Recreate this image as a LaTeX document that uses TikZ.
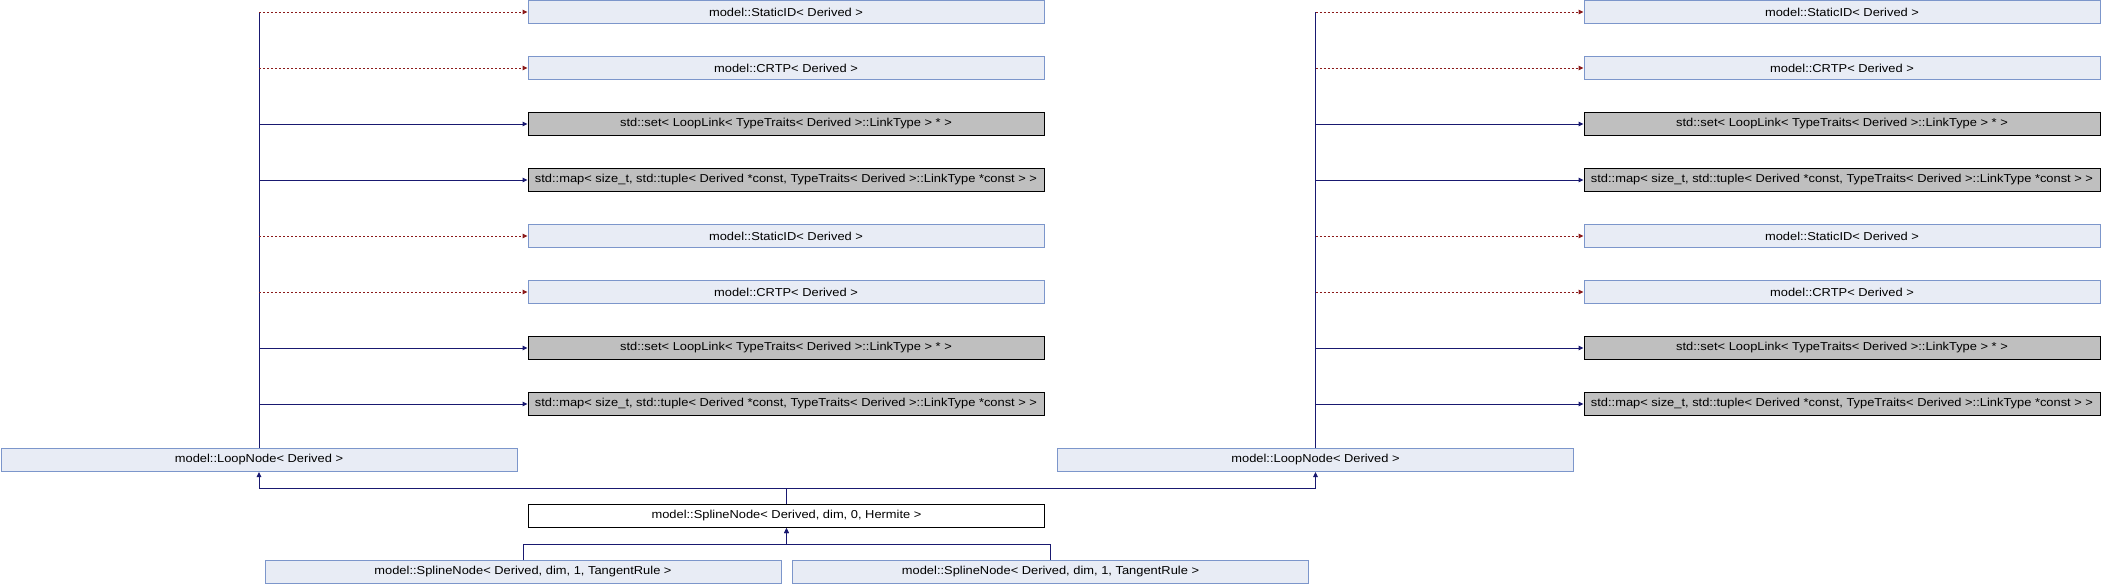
\documentclass[tikz,border=0pt]{standalone}
\usepackage{fontspec}
\setmainfont{Liberation Sans}
\usetikzlibrary{arrows.meta}
\definecolor{edgeblue}{HTML}{191970}
\definecolor{edgered}{HTML}{8B1A1A}
\definecolor{boxfill}{HTML}{E8ECF5}
\definecolor{boxline}{HTML}{7C96CB}
\definecolor{extfill}{HTML}{BFBFBF}
\newcommand{\dx}[1]{\scalebox{1.12}[1]{#1}}
\begin{document}
\begin{tikzpicture}[x=1pt,y=-1pt,
  every node/.style={font=\fontsize{11.5}{13}\selectfont, inner sep=0pt, minimum height=23pt, line width=1pt},
  cls/.style={draw=boxline, fill=boxfill, minimum width=516pt},
  ext/.style={draw=black, fill=extfill, minimum width=516pt},
  cur/.style={draw=black, fill=white, minimum width=516pt},
  tip/.style={-{Triangle[length=5pt,width=4.5pt]}},
  inh/.style={draw=edgeblue, line width=1pt, tip},
  usage/.style={draw=edgered, line width=1pt, dash pattern=on 2pt off 2pt, tip},
  trunk/.style={draw=edgeblue, line width=1pt}
]
\useasboundingbox (0,0) rectangle (2102,584);

% left column
\node[cls] (lS1)  at (786,12)  {\dx{model::StaticID< Derived >}};
\node[cls] (lC1)  at (786,68)  {\dx{model::CRTP< Derived >}};
\node[ext] (lT1)  at (786,124) {\dx{std::set< LoopLink< TypeTraits< Derived >::LinkType > * >}};
\node[ext] (lM1)  at (786,180) {\dx{std::map< size\_t, std::tuple< Derived *const, TypeTraits< Derived >::LinkType *const > >}};
\node[cls] (lS2)  at (786,236) {\dx{model::StaticID< Derived >}};
\node[cls] (lC2)  at (786,292) {\dx{model::CRTP< Derived >}};
\node[ext] (lT2)  at (786,348) {\dx{std::set< LoopLink< TypeTraits< Derived >::LinkType > * >}};
\node[ext] (lM2)  at (786,404) {\dx{std::map< size\_t, std::tuple< Derived *const, TypeTraits< Derived >::LinkType *const > >}};

% right column
\node[cls] (rS1)  at (1842,12)  {\dx{model::StaticID< Derived >}};
\node[cls] (rC1)  at (1842,68)  {\dx{model::CRTP< Derived >}};
\node[ext] (rT1)  at (1842,124) {\dx{std::set< LoopLink< TypeTraits< Derived >::LinkType > * >}};
\node[ext] (rM1)  at (1842,180) {\dx{std::map< size\_t, std::tuple< Derived *const, TypeTraits< Derived >::LinkType *const > >}};
\node[cls] (rS2)  at (1842,236) {\dx{model::StaticID< Derived >}};
\node[cls] (rC2)  at (1842,292) {\dx{model::CRTP< Derived >}};
\node[ext] (rT2)  at (1842,348) {\dx{std::set< LoopLink< TypeTraits< Derived >::LinkType > * >}};
\node[ext] (rM2)  at (1842,404) {\dx{std::map< size\_t, std::tuple< Derived *const, TypeTraits< Derived >::LinkType *const > >}};

% loop nodes
\node[cls] (lLoop) at (259,460)    {\dx{model::LoopNode< Derived >}};
\node[cls] (rLoop) at (1315.5,460) {\dx{model::LoopNode< Derived >}};

% spline nodes
\node[cur] (herm) at (786.5,516) {\dx{model::SplineNode< Derived, dim, 0, Hermite >}};
\node[cls] (t1) at (523,572)    {\dx{model::SplineNode< Derived, dim, 1, TangentRule >}};
\node[cls] (t2) at (1050.5,572) {\dx{model::SplineNode< Derived, dim, 1, TangentRule >}};

% trunks
\draw[trunk] (lLoop.north) -- (lLoop.north |- lS1.west);
\draw[trunk] (rLoop.north) -- (rLoop.north |- rS1.west);

% left edges
\draw[usage] (lLoop.north |- lS1.west) -- (lS1.west);
\draw[usage] (lLoop.north |- lC1.west) -- (lC1.west);
\draw[inh]   (lLoop.north |- lT1.west) -- (lT1.west);
\draw[inh]   (lLoop.north |- lM1.west) -- (lM1.west);
\draw[usage] (lLoop.north |- lS2.west) -- (lS2.west);
\draw[usage] (lLoop.north |- lC2.west) -- (lC2.west);
\draw[inh]   (lLoop.north |- lT2.west) -- (lT2.west);
\draw[inh]   (lLoop.north |- lM2.west) -- (lM2.west);

% right edges
\draw[usage] (rLoop.north |- rS1.west) -- (rS1.west);
\draw[usage] (rLoop.north |- rC1.west) -- (rC1.west);
\draw[inh]   (rLoop.north |- rT1.west) -- (rT1.west);
\draw[inh]   (rLoop.north |- rM1.west) -- (rM1.west);
\draw[usage] (rLoop.north |- rS2.west) -- (rS2.west);
\draw[usage] (rLoop.north |- rC2.west) -- (rC2.west);
\draw[inh]   (rLoop.north |- rT2.west) -- (rT2.west);
\draw[inh]   (rLoop.north |- rM2.west) -- (rM2.west);

% inheritance to loop nodes
\coordinate (hb) at (786.5,488);
\draw[inh] (herm.north) -- (hb) -| (lLoop.south);
\draw[inh] (herm.north) -- (hb) -| (rLoop.south);

% inheritance to hermite
\coordinate (tb) at (786.5,544);
\draw[inh] (t1.north) |- (tb) -- (herm.south);
\draw[inh] (t2.north) |- (tb) -- (herm.south);
\end{tikzpicture}
\end{document}
